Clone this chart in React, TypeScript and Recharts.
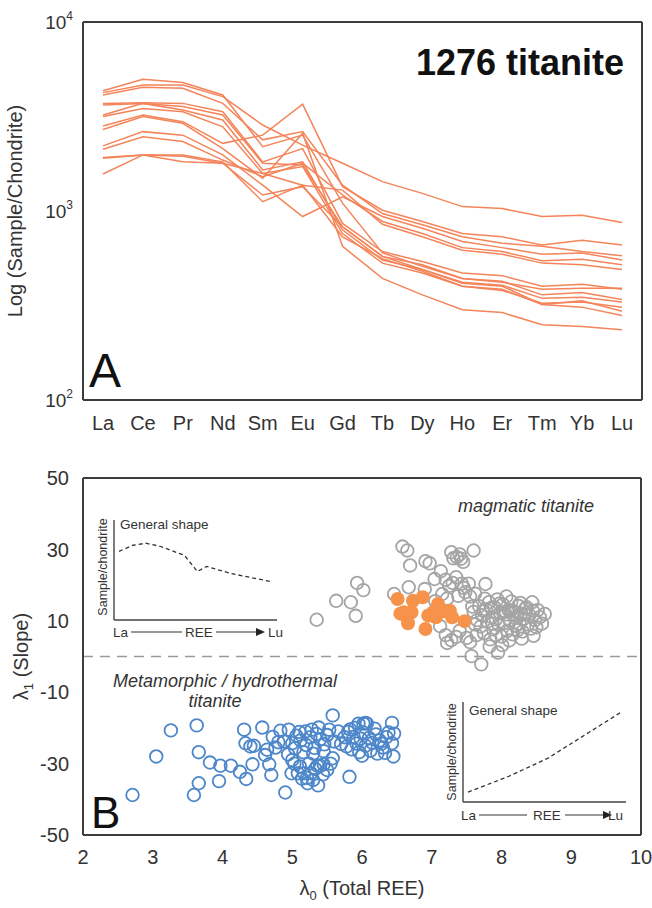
import React from "react";
import { LineChart, Line, XAxis, YAxis, ScatterChart, Scatter, ReferenceLine, Label } from "recharts";

const elements = ["La", "Ce", "Pr", "Nd", "Sm", "Eu", "Gd", "Tb", "Dy", "Ho", "Er", "Tm", "Yb", "Lu"];

// chondrite-normalised REE, one array per analysis
const s01 = [4330, 4980, 4780, 4110, 2190, 2520, 1100, 600, 510, 440, 420, 385, 390, 390];
const s02 = [2820, 3220, 2970, 2280, 2520, 3670, 1345, 1010, 880, 760, 730, 660, 700, 660];
const s03 = [4110, 4510, 4460, 3710, 2380, 2630, 1370, 970, 845, 730, 675, 650, 610, 580];
const s04 = [3710, 3740, 3710, 3350, 1820, 2140, 860, 610, 540, 470, 455, 400, 410, 385];
const s05 = [3640, 3710, 3570, 3220, 1790, 1750, 825, 575, 520, 440, 425, 360, 370, 340];
const s06 = [3220, 3710, 3420, 3030, 1650, 1820, 795, 550, 490, 420, 405, 345, 350, 330];
const s07 = [3160, 3490, 3350, 2790, 1580, 1720, 760, 530, 470, 400, 380, 325, 330, 310];
const s08 = [4230, 4640, 4640, 4030, 2850, 2230, 1790, 1430, 1240, 1055, 1030, 935, 950, 870];
const s09 = [2700, 3160, 2910, 2140, 1490, 2580, 650, 440, 360, 300, 290, 250, 245, 235];
const s10 = [2210, 2630, 2520, 1980, 1370, 935, 1190, 935, 810, 690, 640, 590, 600, 550];
const s11 = [2120, 2470, 2330, 1860, 1520, 1790, 1215, 880, 760, 640, 610, 545, 555, 520];
const s12 = [1920, 1980, 1980, 1820, 1120, 1370, 1290, 850, 730, 620, 590, 530, 520, 490];
const s13 = [1900, 1980, 1950, 1790, 1215, 1345, 825, 575, 490, 415, 400, 320, 335, 295];
const s14 = [1570, 1980, 1820, 1790, 1580, 1370, 730, 560, 480, 400, 385, 320, 310, 280];
const samples = [s01, s02, s03, s04, s05, s06, s07, s08, s09, s10, s11, s12, s13, s14];

const reeTicks = [100, 1000, 10000];
const lambda0Ticks = [2, 3, 4, 5, 6, 7, 8, 9, 10];
const lambda1Ticks = [-50, -30, -10, 10, 30, 50];

// lambda0, lambda1 pairs
const magmaticPts: [number, number][] = [
  [5.35, 10.3], [5.63, 15.6], [5.84, 15.2], [5.91, 11.4], [5.93, 20.6], [6.02, 18.6],
  [6.58, 30.8], [6.65, 29.7], [6.69, 25.5], [6.46, 17.5], [6.67, 19.4], [6.91, 26.7], [6.97, 26.1],
  [6.9, 18.9], [7.04, 21.7], [7.13, 23.9], [7.28, 29.2], [7.31, 27.5], [7.36, 27.8], [7.42, 27.4],
  [7.45, 26.5], [7.4, 28.6], [7.6, 29.7], [7.2, 21.5], [7.25, 19.8], [7.3, 20.6], [7.35, 22.2],
  [7.43, 20.4], [7.46, 19.2], [7.53, 20.4], [7.77, 20.3], [7.15, 17.5], [7.22, 16.2], [7.38, 17.0],
  [7.48, 18.0], [7.55, 16.8], [7.62, 17.6], [7.05, 15.5], [7.12, 8.5], [7.2, 6.0], [7.28, 4.6],
  [7.35, 5.5], [7.22, 3.8], [7.4, 7.2], [7.5, 5.2], [7.55, 4.0], [7.57, 0.1], [7.71, -2.2],
  [7.95, 1.1], [8.36, 13.8], [8.62, 11.9],
  [7.6, 12.5], [7.65, 10.2], [7.68, 14.1], [7.7, 8.4], [7.72, 11.6], [7.75, 6.5], [7.78, 13.2],
  [7.8, 9.8], [7.82, 15.2], [7.84, 4.8], [7.86, 11.0], [7.88, 7.6], [7.9, 13.8], [7.92, 10.4],
  [7.94, 16.0], [7.96, 8.8], [7.98, 12.2], [8.0, 5.6], [8.02, 14.6], [8.04, 9.4], [8.06, 11.8],
  [8.08, 7.2], [8.1, 13.0], [8.12, 10.0], [8.14, 15.4], [8.16, 6.2], [8.18, 12.6], [8.2, 8.6],
  [8.22, 11.2], [8.24, 14.2], [8.26, 9.2], [8.28, 12.0], [8.3, 7.0], [8.32, 10.6], [8.34, 13.4],
  [8.38, 9.0], [8.4, 11.6], [8.42, 7.8], [8.45, 12.8], [8.48, 10.2], [8.5, 8.2], [8.52, 13.0],
  [7.62, 9.0], [7.74, 12.8], [7.85, 13.6], [7.87, 9.2], [7.97, 14.8], [8.03, 12.4], [8.07, 16.8],
  [8.13, 12.8], [8.19, 10.8], [8.23, 7.4], [8.27, 15.0], [8.33, 11.8], [7.58, 14.0], [7.64, 6.0],
  [7.76, 16.2], [7.92, 6.0], [8.11, 4.5], [8.29, 5.0], [8.44, 15.2], [8.55, 11.0], [8.58, 9.2],
  [8.46, 5.8], [8.01, 3.2], [7.83, 2.8],
];

const sample1276Pts: [number, number][] = [
  [6.51, 16.1], [6.73, 15.6], [6.87, 16.6], [6.6, 12.4], [6.71, 12.4], [6.66, 9.3], [6.91, 7.7],
  [7.02, 12.4], [7.09, 14.7], [7.06, 11.0], [7.26, 12.8], [7.29, 11.0], [7.47, 9.9], [6.95, 11.5],
  [7.15, 12.6], [6.55, 12.0],
];

const metamorphicPts: [number, number][] = [
  [2.71, -38.8], [3.05, -28.0], [3.26, -20.7], [3.63, -19.3], [3.66, -26.8], [3.59, -38.8],
  [3.66, -35.5], [3.82, -29.7], [3.97, -30.6], [3.95, -34.9], [4.12, -30.6], [4.25, -32.3],
  [4.34, -34.3], [4.31, -20.5], [4.57, -19.9], [4.33, -24.3], [4.4, -25.2], [4.45, -25.0],
  [4.43, -30.2], [4.7, -33.2], [4.9, -38.1], [4.61, -27.6], [4.64, -26.1], [4.67, -30.2],
  [4.76, -25.5], [4.83, -20.8], [4.95, -20.5], [4.88, -23.8], [5.0, -24.3], [4.94, -27.4],
  [5.04, -25.7], [5.1, -21.1], [5.19, -21.0], [5.28, -20.5], [5.38, -19.9], [5.58, -16.5],
  [5.53, -20.5], [5.66, -21.0], [5.8, -21.1], [5.12, -23.5], [5.2, -24.8], [5.26, -22.6],
  [5.32, -25.6], [5.4, -23.2], [5.46, -24.6], [5.5, -22.0], [5.6, -23.8], [5.7, -24.5],
  [5.75, -22.6], [5.16, -26.8], [5.3, -27.2], [5.45, -26.5], [4.8, -24.0], [4.72, -22.5],
  [5.06, -22.2], [5.35, -21.7],
  [4.99, -32.7], [5.08, -32.7], [5.17, -32.7], [5.21, -34.0], [5.27, -32.7], [5.33, -31.5],
  [5.4, -30.6], [5.03, -30.0], [5.11, -30.8], [5.24, -30.0], [5.36, -30.6], [5.45, -30.2],
  [5.5, -31.8], [5.14, -34.2], [5.22, -35.5], [5.37, -36.1], [5.3, -34.6], [5.44, -33.0],
  [5.55, -30.0], [5.0, -29.0], [5.58, -28.5], [5.82, -33.7],
  [5.95, -18.8], [6.07, -18.8], [6.02, -18.8], [6.05, -18.6], [6.01, -21.2], [5.88, -22.5],
  [5.92, -24.4], [5.98, -23.0], [6.05, -25.0], [6.1, -22.8], [6.15, -24.2], [6.2, -21.8],
  [6.25, -23.5], [6.3, -25.5], [6.35, -22.6], [5.85, -26.0], [5.96, -26.8], [6.12, -26.4],
  [6.22, -27.2], [6.28, -24.4], [6.43, -18.6], [6.38, -21.3], [6.46, -21.6], [6.43, -24.3],
  [6.45, -28.0], [5.83, -20.4], [6.18, -20.2], [6.0, -27.8], [6.33, -27.0], [5.78, -25.2],
  [5.9, -20.0],
];

// schematic REE patterns for the two insets (position along La..Lu, relative height)
const magShapeX = [0, 1.2, 2.3, 3.5, 5.6, 6.7, 7.5, 9.6, 13];
const magShapeY = [68, 74, 76, 73, 64, 48, 53, 46, 38];
const metShapeX = [0, 3.5, 6.8, 13];
const metShapeY = [10, 26, 44, 90];

const FONT = "'Liberation Sans', Arial, sans-serif";
const TXT = "#333";
const FRAME = { stroke: "#3d3d3d", strokeWidth: 2 };
const INSET_AXIS = { stroke: "#444", strokeWidth: 1.4 };
const ORANGE_LINE = "#f4845a";

const reeRows = elements.map((el, i) => {
  const row: Record<string, number | string> = { el };
  samples.forEach((s, j) => (row["s" + j] = s[i]));
  return row;
});
const toXY = (pts: [number, number][]) => pts.map(([x, y]) => ({ x, y }));

function PowTick(props: any) {
  const { x, y, payload } = props;
  const exp = Math.round(Math.log10(payload.value));
  return (
    <text x={x} y={y} textAnchor="end" fontSize={19} fill={TXT} fontFamily={FONT} dy={7}>
      10<tspan fontSize={12} dy={-9}>{exp}</tspan>
    </text>
  );
}

const openCircle = (color: string) => (p: any) => (
  <circle cx={p.cx} cy={p.cy} r={6.3} fill="none" stroke={color} strokeWidth={1.8} />
);
const dotFilled = (p: any) => <circle cx={p.cx} cy={p.cy} r={7} fill="#f6924a" stroke="none" />;

function ShapeInset({ left, top, xs, ys, yMax }: { left: number; top: number; xs: number[]; ys: number[]; yMax: number }) {
  const data = xs.map((x, i) => ({ x, y: ys[i] }));
  return (
    <div style={{ position: "absolute", left: left - 3, top: top - 2 }}>
      <LineChart width={168} height={104} data={data} margin={{ top: 2, right: 2, bottom: 1, left: 2 }}>
        <XAxis type="number" dataKey="x" domain={[0, 13]} padding={{ left: 5, right: 6 }} height={1} tick={false} tickLine={false} axisLine={INSET_AXIS} />
        <YAxis type="number" domain={[0, yMax]} width={1} tick={false} tickLine={false} axisLine={INSET_AXIS} />
        <Line dataKey="y" type="linear" stroke="#333" strokeWidth={1.3} strokeDasharray="4 3" dot={false} isAnimationActive={false} />
      </LineChart>
    </div>
  );
}

function InsetText({ x0, yTitle, yAxisMid, yRow, rowX }: { x0: number; yTitle: number; yAxisMid: number; yRow: number; rowX: number[] }) {
  const [la, l1a, l1b, ree, l2a, l2b, lu] = rowX;
  return (
    <g fontFamily={FONT} fill={TXT}>
      <text x={x0 + 6} y={yTitle} fontSize={13.5}>General shape</text>
      <text transform={`translate(${x0 - 7},${yAxisMid}) rotate(-90)`} textAnchor="middle" fontSize={12.5}>Sample/chondrite</text>
      <text x={la} y={yRow} fontSize={13.5}>La</text>
      <line x1={l1a} x2={l1b} y1={yRow - 5} y2={yRow - 5} stroke="#333" strokeWidth={1} />
      <text x={ree} y={yRow} fontSize={13.5}>REE</text>
      <line x1={l2a} x2={l2b - 6} y1={yRow - 5} y2={yRow - 5} stroke="#333" strokeWidth={1} />
      <polygon points={`${l2b},${yRow - 5} ${l2b - 9},${yRow - 9} ${l2b - 9},${yRow - 1}`} fill="#222" />
      <text x={lu} y={yRow} fontSize={13.5}>Lu</text>
    </g>
  );
}

export default function App() {
  return (
    <div style={{ position: "absolute", left: 0, top: 0, width: 652, height: 908, background: "#fff", fontFamily: FONT }}>
      <div style={{ position: "absolute", left: 0, top: 0 }}>
        <LineChart width={652} height={440} data={reeRows} margin={{ top: 20, right: 9, bottom: 0, left: 0 }}>
          <XAxis dataKey="el" interval={0} height={40} padding={{ left: 20, right: 20 }} tickLine={false} axisLine={FRAME} tick={{ fontSize: 20, fill: TXT, fontFamily: FONT }} tickMargin={10} />
          <XAxis xAxisId="top" dataKey="el" orientation="top" height={2} tick={false} tickLine={false} axisLine={FRAME} />
          <YAxis scale="log" domain={[100, 10000]} ticks={reeTicks} allowDataOverflow width={83} tickLine={false} axisLine={FRAME} tick={<PowTick />} tickMargin={4}>
            <Label
              content={(p: any) => (
                <text transform={`translate(${p.viewBox.x + 22},${p.viewBox.y + p.viewBox.height / 2}) rotate(-90)`} textAnchor="middle" fontSize={20} fill={TXT} fontFamily={FONT}>
                  Log (Sample/Chondrite)
                </text>
              )}
            />
          </YAxis>
          <YAxis yAxisId="right" orientation="right" width={1} tick={false} tickLine={false} axisLine={FRAME} />
          {samples.map((_, j) => (
            <Line key={j} dataKey={"s" + j} type="linear" stroke={ORANGE_LINE} strokeWidth={1.5} dot={false} isAnimationActive={false} />
          ))}
        </LineChart>
      </div>

      <div style={{ position: "absolute", left: 0, top: 440 }}>
        <ScatterChart width={652} height={468} margin={{ top: 36, right: 10, bottom: 0, left: 0 }}>
          <XAxis type="number" dataKey="x" domain={[2, 10]} ticks={lambda0Ticks} height={73} tickLine={false} axisLine={FRAME} tick={{ fontSize: 20, fill: TXT, fontFamily: FONT }} tickMargin={9}>
            <Label
              content={(p: any) => (
                <text x={p.viewBox.x + p.viewBox.width / 2} y={p.viewBox.y + 60} textAnchor="middle" fontSize={20} fill={TXT} fontFamily={FONT}>
                  λ<tspan fontSize={13} dy={5}>0</tspan><tspan dy={-5}> (Total REE)</tspan>
                </text>
              )}
            />
          </XAxis>
          <XAxis xAxisId="top" type="number" domain={[2, 10]} orientation="top" height={2} tick={false} tickLine={false} axisLine={FRAME} />
          <YAxis type="number" dataKey="y" domain={[-50, 50]} ticks={lambda1Ticks} width={83} tickLine={false} axisLine={FRAME} tick={{ fontSize: 20, fill: TXT, fontFamily: FONT }} tickMargin={8}>
            <Label
              content={(p: any) => (
                <text transform={`translate(${p.viewBox.x + 28},${p.viewBox.y + p.viewBox.height / 2}) rotate(-90)`} textAnchor="middle" fontSize={20} fill={TXT} fontFamily={FONT}>
                  λ<tspan fontSize={13} dy={5}>1</tspan><tspan dy={-5}> (Slope)</tspan>
                </text>
              )}
            />
          </YAxis>
          <YAxis yAxisId="right" orientation="right" width={1} tick={false} tickLine={false} axisLine={FRAME} />
          <ReferenceLine y={0} stroke="#9a9a9a" strokeWidth={1.5} strokeDasharray="10 7" />
          <Scatter data={toXY(magmaticPts)} shape={openCircle("#a5a5a5")} isAnimationActive={false} />
          <Scatter data={toXY(sample1276Pts)} shape={dotFilled} isAnimationActive={false} />
          <Scatter data={toXY(metamorphicPts)} shape={openCircle("#4d87c9")} isAnimationActive={false} />
        </ScatterChart>
      </div>

      <ShapeInset left={114} top={520} xs={magShapeX} ys={magShapeY} yMax={99} />
      <ShapeInset left={463} top={702} xs={metShapeX} ys={metShapeY} yMax={101} />

      <svg width={652} height={908} style={{ position: "absolute", left: 0, top: 0, pointerEvents: "none" }}>
        <text x={624} y={75} textAnchor="end" fontSize={36} fontWeight="bold" fill="#111" fontFamily="'Liberation Sans Narrow', 'Liberation Sans', Arial, sans-serif">
          1276 titanite
        </text>
        <text x={89} y={387} fontSize={48} fill="#111" fontFamily={FONT}>A</text>
        <text x={91} y={828} fontSize={44} fill="#111" fontFamily={FONT}>B</text>
        <g fontFamily={FONT} fill={TXT} fontStyle="italic" fontSize={18}>
          <text x={458} y={512}>magmatic titanite</text>
          <text x={225} y={687} textAnchor="middle">Metamorphic / hydrothermal</text>
          <text x={215} y={707} textAnchor="middle">titanite</text>
        </g>
        <InsetText x0={114} yTitle={529} yAxisMid={567} yRow={637} rowX={[113, 131, 182, 185, 216, 265, 268]} />
        <InsetText x0={463} yTitle={715} yAxisMid={752} yRow={820} rowX={[461, 479, 527, 533, 565, 612, 608]} />
      </svg>
    </div>
  );
}
